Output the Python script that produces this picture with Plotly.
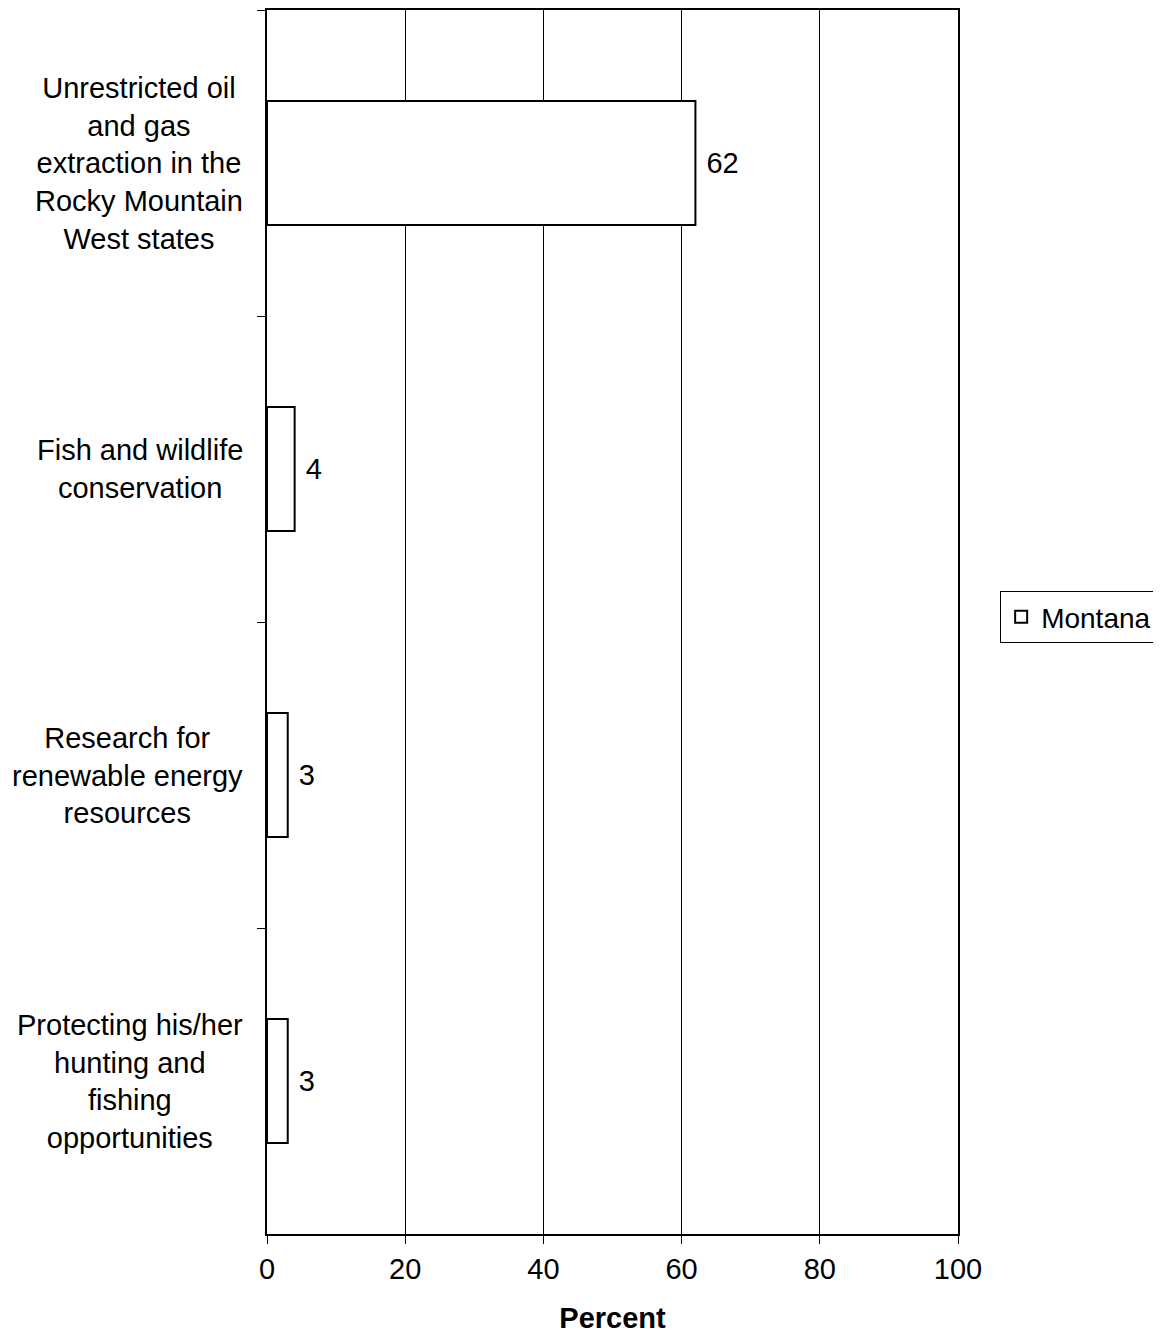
import plotly.graph_objects as go

categories = [
    "Unrestricted oil<br>and gas<br>extraction in the<br>Rocky Mountain<br>West states",
    "Fish and wildlife<br>conservation",
    "Research for<br>renewable energy<br>resources",
    "Protecting his/her<br>hunting and<br>fishing<br>opportunities",
]
montana = [62, 4, 3, 3]
x_ticks = [0, 20, 40, 60, 80, 100]

font = dict(family="Arial, Liberation Sans, sans-serif", size=29, color="black")

fig = go.Figure()

fig.add_trace(go.Bar(
    y=categories, x=montana, orientation="h", name="Montana",
    marker=dict(color="white", line=dict(color="black", width=2)),
    width=0.405,
    texttemplate="\u00a0%{x}", textposition="outside", textfont=font,
    cliponaxis=False,
))

# centred multi-line category labels
for cat in categories:
    fig.add_annotation(x=0, xref="paper", y=cat, yref="y", text=cat,
                       xanchor="right", yanchor="middle", align="center",
                       xshift=-22, showarrow=False, font=font)

# page body has an 8px margin, so shrink the figure by that much
fig.update_layout(
    width=1153, height=1334,
    margin=dict(l=259, r=203, t=2, b=108, autoexpand=False),
    plot_bgcolor="white", paper_bgcolor="white",
    font=font,
    showlegend=True,
    legend=dict(x=1.061, y=0.504, xanchor="left", yanchor="middle",
                bordercolor="black", borderwidth=1,
                font=dict(family=font["family"], size=28, color="black"),
                itemwidth=30),
    xaxis=dict(range=[0, 100], tickvals=x_ticks, showgrid=True,
               gridcolor="black", gridwidth=1, showline=True, linecolor="black",
               linewidth=2, mirror=True, ticks="outside", ticklen=8,
               tickcolor="black", zeroline=False,
               title=dict(text="<b>Percent</b>", font=font, standoff=24)),
    yaxis=dict(categoryorder="array", categoryarray=categories,
               autorange="reversed", showline=True, linecolor="black",
               linewidth=2, mirror=True, ticks="outside", ticklen=8,
               tickcolor="black", tickson="boundaries", showgrid=False,
               showticklabels=False),
)

fig.write_html("out.html")
